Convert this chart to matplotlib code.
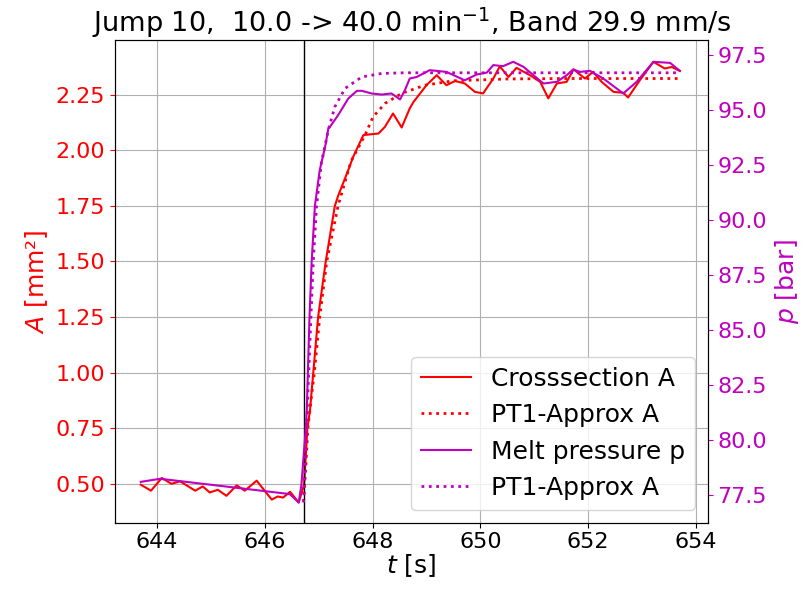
import numpy as np
import matplotlib.pyplot as plt

# Querschnitt A (gemessen)
t_A = [643.70, 643.89, 644.09, 644.27, 644.43, 644.71, 644.85, 644.98, 645.13, 645.29,
       645.48, 645.63, 645.85, 646.13, 646.24, 646.34, 646.47, 646.63, 646.73, 646.79,
       646.84, 646.90, 646.99, 647.13, 647.30, 647.36, 647.55, 647.64, 647.83, 648.11,
       648.23, 648.38, 648.54, 648.69, 648.76, 649.00, 649.19, 649.37, 649.53, 649.71,
       649.90, 650.05, 650.24, 650.36, 650.52, 650.67, 650.92, 651.11, 651.26, 651.42,
       651.60, 651.73, 651.94, 652.09, 652.25, 652.47, 652.65, 652.74, 652.96, 653.21,
       653.42, 653.55, 653.70]
A = [0.497, 0.470, 0.527, 0.501, 0.512, 0.470, 0.489, 0.462, 0.474, 0.447,
     0.494, 0.470, 0.515, 0.430, 0.444, 0.439, 0.465, 0.417, 0.497, 0.748,
     0.833, 1.000, 1.250, 1.498, 1.749, 1.794, 1.911, 1.970, 2.068, 2.075,
     2.105, 2.165, 2.102, 2.188, 2.217, 2.292, 2.337, 2.292, 2.311, 2.300,
     2.262, 2.255, 2.322, 2.377, 2.329, 2.370, 2.337, 2.307, 2.233, 2.300,
     2.307, 2.363, 2.322, 2.352, 2.307, 2.262, 2.258, 2.237, 2.315, 2.397,
     2.367, 2.374, 2.356]

# PT1-Naeherung A
t_A_pt1 = [646.72, 646.76, 646.80, 646.86, 646.92, 647.02, 647.15, 647.36, 647.60, 647.86,
           648.01, 648.23, 648.54, 648.97, 649.50, 650.50, 651.50, 652.50, 653.70]
A_pt1 = [0.42, 0.57, 0.75, 0.88, 1.00, 1.25, 1.50, 1.75, 1.95, 2.068,
         2.15, 2.21, 2.255, 2.292, 2.312, 2.320, 2.322, 2.322, 2.322]

# Schmelzedruck p
t_p = [643.70, 644.06, 646.41, 646.47, 646.63, 646.68, 646.76, 646.78, 646.80, 646.83,
       646.87, 646.93, 647.02, 647.12, 647.18, 647.21, 647.36, 647.55, 647.71, 647.80,
       647.98, 648.17, 648.35, 648.51, 648.60, 648.69, 648.82, 649.06, 649.37, 649.71,
       649.93, 650.12, 650.24, 650.42, 650.61, 650.80, 651.17, 651.42, 651.60, 651.72,
       651.85, 652.03, 652.28, 652.65, 652.90, 653.21, 653.52, 653.70]
p = [78.09, 78.23, 77.55, 77.52, 77.15, 77.95, 80.50, 81.36, 83.06, 85.59,
     88.09, 90.64, 92.27, 93.33, 94.17, 94.24, 94.77, 95.53, 95.88, 95.88,
     95.76, 95.71, 95.76, 95.49, 95.91, 96.44, 96.51, 96.82, 96.74, 96.36,
     96.62, 96.71, 97.05, 97.00, 97.20, 96.97, 96.21, 96.29, 96.59, 96.85,
     96.74, 96.79, 96.44, 95.76, 96.29, 97.20, 97.15, 96.79]

# PT1-Naeherung p
t_p_pt1 = [646.72, 646.76, 646.79, 646.82, 646.86, 646.90, 646.96, 647.05, 647.18, 647.30,
           647.49, 647.80, 648.17, 648.60, 649.50, 651.00, 652.50, 653.70]
p_pt1 = [77.15, 79.5, 81.5, 83.3, 85.8, 88.1, 90.6, 92.6, 94.1, 95.15,
         95.99, 96.51, 96.67, 96.70, 96.70, 96.70, 96.70, 96.70]

t_jump = 646.72

plt.rcParams['font.size'] = 16
fig = plt.figure(figsize=(8.09, 5.92), dpi=100)
ax1 = fig.add_axes([0.142, 0.117, 0.733, 0.815])
ax2 = ax1.twinx()

l1, = ax1.plot(t_A, A, 'r-', lw=1.5, label='Crosssection A')
l2, = ax1.plot(t_A_pt1, A_pt1, 'r:', lw=2, label='PT1-Approx A')
ax1.axvline(t_jump, color='k', lw=1)
l3, = ax2.plot(t_p, p, 'm-', lw=1.5, label='Melt pressure p')
l4, = ax2.plot(t_p_pt1, p_pt1, 'm:', lw=2, label='PT1-Approx A')

ax1.set_xlim(643.22, 654.22)
ax1.set_ylim(0.326, 2.494)
ax2.set_ylim(76.23, 98.18)
ax1.set_xticks([644, 646, 648, 650, 652, 654])
ax1.set_yticks([0.5, 0.75, 1.0, 1.25, 1.5, 1.75, 2.0, 2.25])
ax2.set_yticks([77.5, 80, 82.5, 85, 87.5, 90, 92.5, 95, 97.5])

ax1.grid(True)
ax1.tick_params(axis='y', colors='r')
ax2.tick_params(axis='y', colors='m')
ax1.set_xlabel('$t$ [s]', fontsize=18, labelpad=0)
ax1.set_ylabel('$A$ [mm²]', color='r', fontsize=18)
ax2.set_ylabel('$p$ [bar]', color='m', fontsize=18)
ax1.set_title('Jump 10,  10.0 -> 40.0 min$^{-1}$, Band 29.9 mm/s', fontsize=19.5, pad=5)

ax2.legend(handles=[l1, l2, l3, l4], loc='lower right', fontsize=18)

fig.savefig('out.png', dpi=100)
